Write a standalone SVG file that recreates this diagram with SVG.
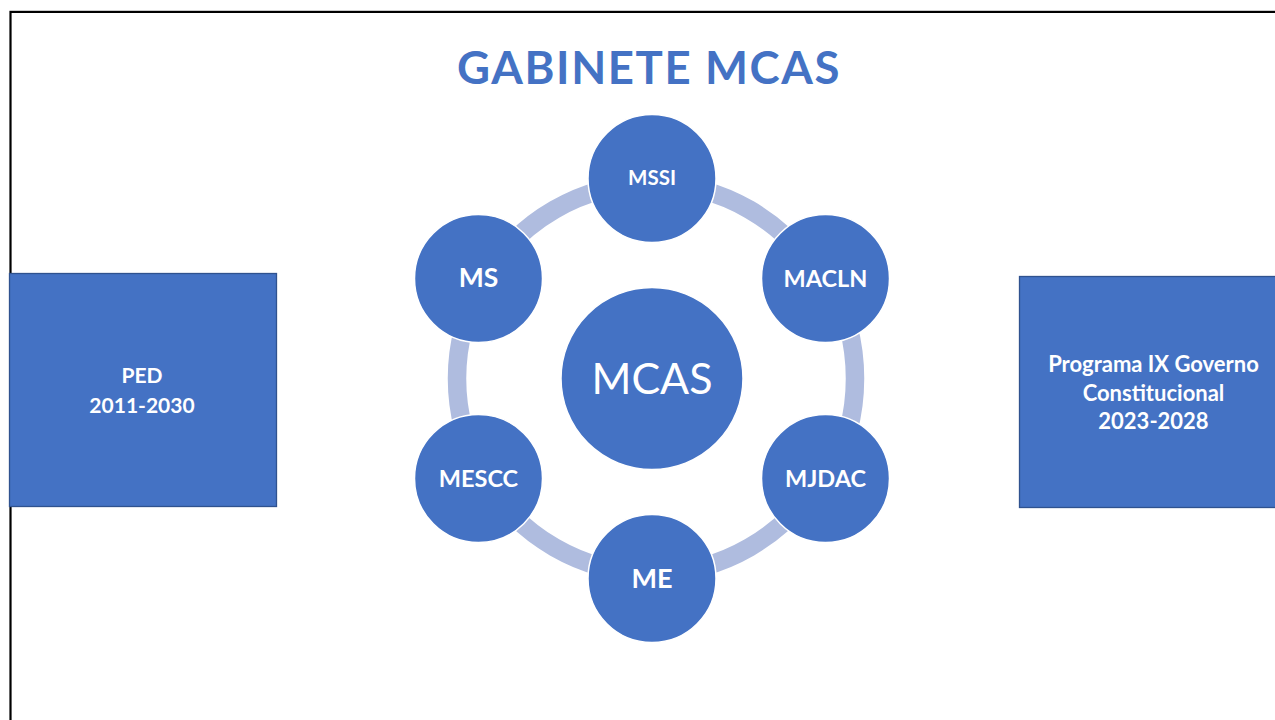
<svg xmlns="http://www.w3.org/2000/svg" width="1275" height="720" viewBox="0 0 1275 720">
<style>
.bg{fill:#ffffff}
.frame{fill:none;stroke:#000000;stroke-width:2.2}
.box{fill:#4472C4;stroke:#2F528F;stroke-width:1.3}
.node{fill:#4472C4;stroke:#ffffff;stroke-width:1.5}
.ring{fill:none;stroke:#AFBCDF;stroke-width:18.5}
.t{font-family:Lato,"Open Sans","Liberation Sans",sans-serif;fill:#ffffff;text-anchor:middle;font-weight:bold}
.title{font-family:Lato,"Open Sans","Liberation Sans",sans-serif;fill:#4472C4;text-anchor:middle;font-weight:bold;font-size:45.5px;letter-spacing:1.6px}
.center{font-weight:normal}
</style>
<rect class="bg" x="0" y="0" width="1275" height="720"/>
<rect class="frame" x="10.5" y="11.9" width="1300" height="800"/>
<text class="title" x="649" y="84">GABINETE MCAS</text>
<g id="connectors">
<path class="ring" d="M483.13,281 A195,195 0 0 1 652,183.5"/>
<path class="ring" d="M652,183.5 A195,195 0 0 1 820.87,281"/>
<path class="ring" d="M827.8,277 A203,203 0 0 1 827.8,480"/>
<path class="ring" d="M820.87,476 A195,195 0 0 1 652,573.5"/>
<path class="ring" d="M652,573.5 A195,195 0 0 1 483.13,476"/>
<path class="ring" d="M483.13,476 A195,195 0 0 1 483.13,281"/>
</g>
<g id="ped">
<rect class="box" x="9.5" y="273.5" width="267" height="233"/>
<text class="t" x="142" y="383" font-size="21">PED</text>
<text class="t" x="142" y="412.5" font-size="21">2011-2030</text>
</g>
<g id="programa">
<rect class="box" x="1019.5" y="276.5" width="270" height="231"/>
<text class="t" x="1153.5" y="371.5" font-size="22">Programa IX Governo</text>
<text class="t" x="1153.5" y="400.5" font-size="22">Constitucional</text>
<text class="t" x="1153.5" y="428.5" font-size="22">2023-2028</text>
</g>
<g id="mcas">
<circle class="node" cx="652" cy="378.5" r="91"/>
<text class="t center" x="652" y="393.5" font-size="43">MCAS</text>
</g>
<g id="mssi">
<circle class="node" cx="652" cy="178.5" r="64"/>
<text class="t" x="652" y="185" font-size="20.5">MSSI</text>
</g>
<g id="macln">
<circle class="node" cx="825.5" cy="278.5" r="64"/>
<text class="t" x="825.5" y="287" font-size="23.5">MACLN</text>
</g>
<g id="mjdac">
<circle class="node" cx="825.5" cy="478.5" r="64"/>
<text class="t" x="825.5" y="487" font-size="23.5">MJDAC</text>
</g>
<g id="me">
<circle class="node" cx="652" cy="578.5" r="64"/>
<text class="t" x="652" y="587.5" font-size="27">ME</text>
</g>
<g id="mescc">
<circle class="node" cx="478.5" cy="478.5" r="64"/>
<text class="t" x="478.5" y="487" font-size="23.5">MESCC</text>
</g>
<g id="ms">
<circle class="node" cx="478.5" cy="278.5" r="64"/>
<text class="t" x="478.5" y="287" font-size="26.5">MS</text>
</g>
</svg>
